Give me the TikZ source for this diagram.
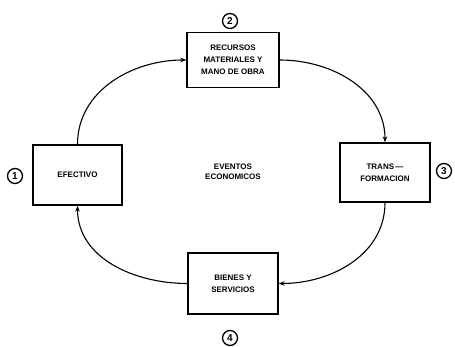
\documentclass[tikz,border=0pt]{standalone}
\usepackage{fontspec}
\setmainfont{Liberation Sans}
\usetikzlibrary{arrows.meta}
\begin{document}
\begin{tikzpicture}[x=1pt,y=1pt,
  stagebox/.style={draw, line width=1.3pt, align=center, inner sep=0pt,
    font=\bfseries\fontsize{8}{12}\selectfont},
  stepnum/.style={draw, circle, line width=1.3pt, minimum size=15pt, inner sep=0pt,
    font=\bfseries\fontsize{10}{10}\selectfont},
  flow/.style={line width=1.1pt, -{Stealth[length=6pt,width=4.5pt]}},
  centerlabel/.style={align=center, font=\bfseries\fontsize{8}{10.5}\selectfont}]
  \useasboundingbox (0,0) rectangle (455,347);

  % stages of the cycle
  \node[stagebox, minimum width=89pt, minimum height=60pt] (efectivo) at (77.5,172) {EFECTIVO};
  \node[stagebox, minimum width=92pt, minimum height=55pt] (recursos) at (233,287) {RECURSOS\\MATERIALES Y\\MANO DE OBRA};
  \node[stagebox, minimum width=90pt, minimum height=59pt] (transf) at (385,174.5) {TRANS\,—\\FORMACION};
  \node[stagebox, minimum width=90pt, minimum height=61pt] (bienes) at (233,63.5) {BIENES Y\\SERVICIOS};

  % step numbers
  \node[stepnum] (n1) at (15,171) {1};
  \node[stepnum] (n2) at (230,326) {2};
  \node[stepnum] (n3) at (444,176) {3};
  \node[stepnum] (n4) at (230,9) {4};

  \node[centerlabel] (eventos) at (233,175) {EVENTOS\\ECONOMICOS};

  % cycle arrows
  \draw[flow] (efectivo.north) to[out=90, in=180] (recursos.west);
  \draw[flow] (recursos.east) to[out=0, in=90] (transf.north);
  \draw[flow] (transf.south) to[out=-90, in=0] (bienes.east);
  \draw[flow] (bienes.west) to[out=180, in=-90] (efectivo.south);
\end{tikzpicture}
\end{document}
